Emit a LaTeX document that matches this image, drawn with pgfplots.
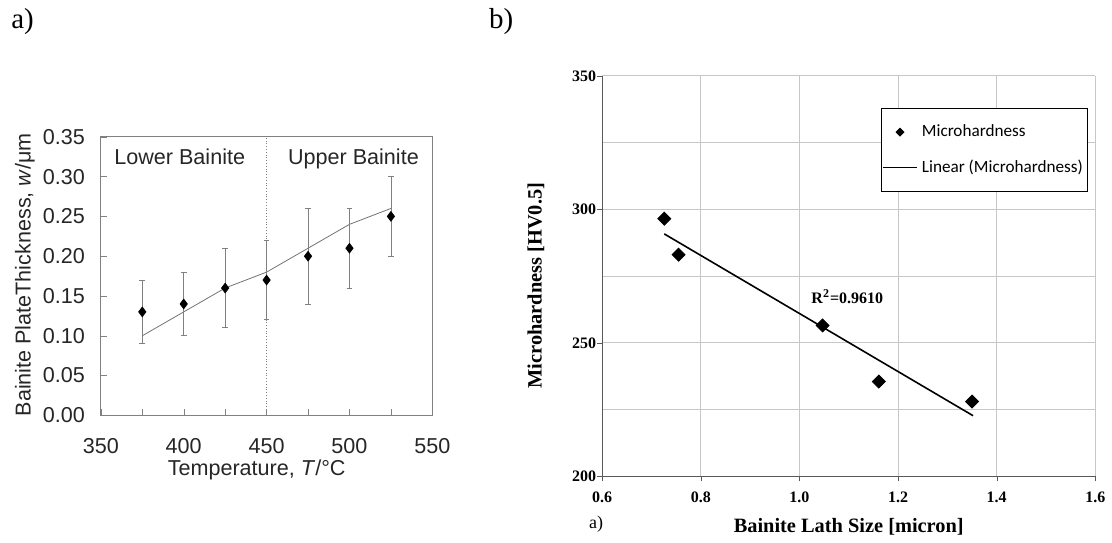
\documentclass[border=0pt]{standalone}
\usepackage{fontspec}
\setmainfont{Liberation Serif}
\newfontfamily\arialf{Liberation Sans}
\newfontfamily\calib{Carlito}
\usepackage{pgfplots}
\pgfplotsset{compat=1.18}

\begin{document}
\begin{tikzpicture}
\path (0,0) rectangle (556pt,271.5pt);
\node[font=\fontsize{14.5}{16}\selectfont] at (11.3pt,260.5pt) {a)};
\node[font=\fontsize{14.5}{16}\selectfont] at (251pt,260.5pt) {b)};
\node[font=\fontsize{9}{11}\selectfont] at (298.5pt,9pt) {a)};

% left panel
\begin{axis}[
  at={(50.5pt,63.5pt)}, anchor=south west, scale only axis,
  width=166pt, height=139.5pt,
  xmin=350, xmax=550, ymin=0, ymax=0.35,
  xtick={350,400,450,500,550}, minor xtick={375,425,475,525},
  ytick={0,0.05,0.10,0.15,0.20,0.25,0.30,0.35},
  yticklabels={0.00,0.05,0.10,0.15,0.20,0.25,0.30,0.35},
  tick align=inside, tick pos=left,
  major tick length=3pt, minor tick length=3pt,
  axis line style={black!50}, tick style={black!50},
  /pgf/number format/assume math mode=true,
  tick label style={font=\arialf\fontsize{10.8}{12}\selectfont, black!85},
  yticklabel shift=4.5pt,
  xticklabel style={yshift=-8pt},
  label style={font=\arialf\fontsize{10.8}{12}\selectfont, black!85},
  xlabel={Temperature, \textit{T}/°C},
  ylabel={Bainite PlateThickness, \textit{w}/μm},
  xlabel style={at={(axis description cs:0.47,-0.195)}, anchor=center},
  ylabel style={at={(axis description cs:-0.229,0.505)}, anchor=center},
]
\addplot[black!50, densely dotted, thin] coordinates {(450,0) (450,0.35)};
\addplot[black!55, thin] coordinates {(375,0.10) (400,0.13) (425,0.16) (450,0.18) (475,0.21) (500,0.24) (525,0.26)};
\addplot[only marks, mark=diamond*, mark size=2.4pt, black,
  error bars/.cd, y dir=both, y explicit,
  error bar style={black!50, thin},
  error mark options={black!50, rotate=90, mark size=1.4pt}]
  table[x=x, y=y, y error plus=ep, y error minus=em] {
x   y    ep   em
375 0.13 0.04 0.04
400 0.14 0.04 0.04
425 0.16 0.05 0.05
450 0.17 0.05 0.05
475 0.20 0.06 0.06
500 0.21 0.05 0.05
525 0.25 0.05 0.05
};
\node[font=\arialf\fontsize{10.8}{12}\selectfont, black!85, anchor=base] at (axis cs:397.6,0.315) {Lower Bainite};
\node[font=\arialf\fontsize{10.8}{12}\selectfont, black!85, anchor=base] at (axis cs:502.4,0.315) {Upper Bainite};
\end{axis}

% right panel
\begin{axis}[
  at={(301.5pt,33pt)}, anchor=south west, scale only axis,
  width=247pt, height=200.5pt,
  xmin=0.6, xmax=1.6, ymin=200, ymax=350,
  xtick={0.6,0.8,1.0,1.2,1.4,1.6}, xticklabels={0.6,0.8,1.0,1.2,1.4,1.6},
  ytick={200,250,300,350}, minor ytick={225,275,325},
  grid=both, grid style={black!22}, minor grid style={black!22},
  axis x line=bottom, axis y line=left,
  axis line style={-, black!65},
  tick align=outside, major tick length=2.5pt, minor tick length=0pt,
  tick style={black!65},
  /pgf/number format/assume math mode=true,
  tick label style={font=\bfseries\fontsize{8}{10}\selectfont},
  xticklabel style={yshift=-2pt},
  yticklabel style={xshift=3pt},
  label style={font=\bfseries\fontsize{10.2}{12}\selectfont},
  xlabel={Bainite Lath Size [micron]},
  ylabel={Microhardness [HV0.5]},
  xlabel style={at={(axis description cs:0.5,-0.127)}, anchor=center},
  ylabel style={at={(axis description cs:-0.134,0.476)}, anchor=center},
  legend style={at={(0.565,0.919)}, anchor=north west, draw=black, thin,
    font=\calib\fontsize{8.6}{10}\selectfont, inner xsep=0.5pt, inner ysep=6pt,
    row sep=6pt},
  legend cell align=left,
]
\addplot[only marks, mark=square*, mark size=2.3pt, mark options={rotate=45}, black,
  legend image post style={mark size=1.4pt}]
  coordinates {(0.726,296.5) (0.755,283) (1.047,256.5) (1.161,235.5) (1.350,228)};
\addlegendentry{Microhardness}
\addplot[black, line width=0.8pt] coordinates {(0.726,290.8) (1.352,222.7)};
\addlegendentry{Linear (Microhardness)}
\node[font=\bfseries\fontsize{8}{10}\selectfont, fill=white, inner sep=2pt] at (axis cs:1.097,267.3) {R\textsuperscript{2}=0.9610};
\end{axis}
\end{tikzpicture}
\end{document}
